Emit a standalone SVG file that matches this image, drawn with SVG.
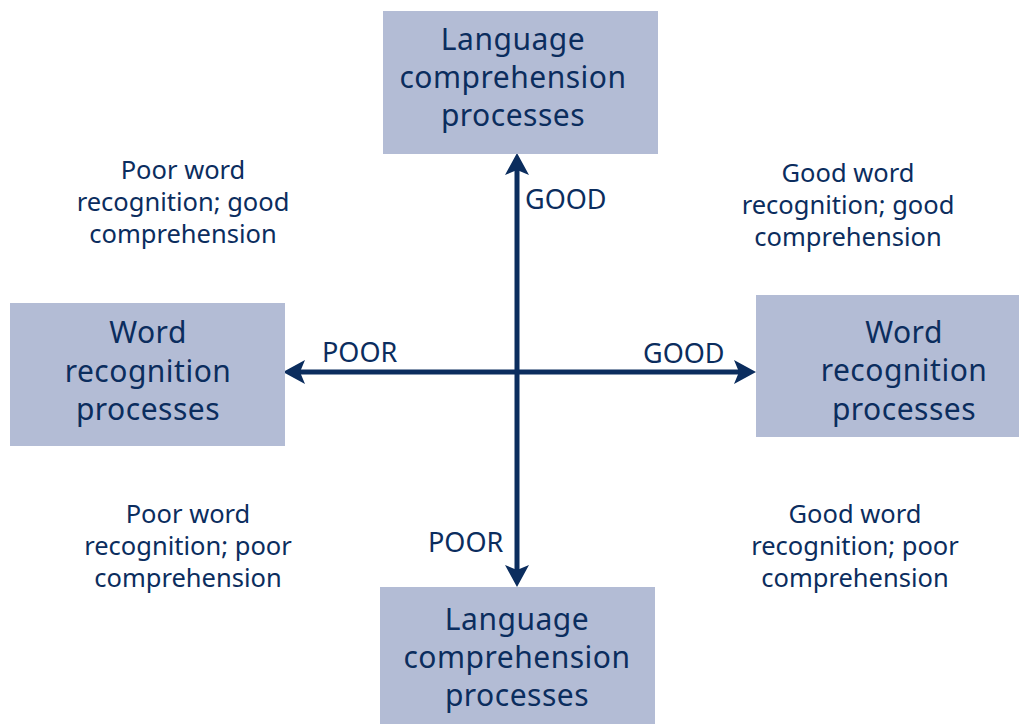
<svg xmlns="http://www.w3.org/2000/svg" width="1019" height="724" viewBox="0 0 1019 724">
<style>
.box{fill:#b3bcd5}
.bt{font-family:"Noto Sans",sans-serif;font-size:30px;fill:#0b2d5e;text-anchor:middle;letter-spacing:0.5px}
.qt{font-family:"Noto Sans",sans-serif;font-size:25.5px;fill:#0b2d5e;text-anchor:middle}
.at{font-family:"Noto Sans",sans-serif;font-size:27px;fill:#0b2d5e}
.ax{stroke:#0b2d5e;stroke-width:5;fill:none}
</style>
<defs>
<marker id="ah" markerUnits="userSpaceOnUse" markerWidth="30" markerHeight="30" viewBox="-15 -15 30 30" refX="0" refY="0" orient="auto-start-reverse" overflow="visible">
<path d="M10,0 L-12,-12 L-7,0 L-12,12 Z" fill="#0b2d5e"/>
</marker>
</defs>
<rect width="1019" height="724" fill="#ffffff"/>
<g id="connectors">
<line class="ax" x1="293" y1="372" x2="746" y2="372" marker-start="url(#ah)" marker-end="url(#ah)"/>
<line class="ax" x1="517" y1="163" x2="517" y2="577" marker-start="url(#ah)" marker-end="url(#ah)"/>
<text class="at" x="322" y="362">POOR</text>
<text class="at" x="643" y="363">GOOD</text>
<text class="at" x="525" y="209">GOOD</text>
<text class="at" x="428" y="552">POOR</text>
</g>
<g id="node-top">
<rect class="box" x="383" y="11" width="275" height="143"/>
<text class="bt" x="513" y="50">Language</text>
<text class="bt" x="513" y="88">comprehension</text>
<text class="bt" x="513" y="126">processes</text>
</g>
<g id="node-bottom">
<rect class="box" x="380" y="587" width="275" height="137"/>
<text class="bt" x="517" y="630">Language</text>
<text class="bt" x="517" y="668">comprehension</text>
<text class="bt" x="517" y="706">processes</text>
</g>
<g id="node-left">
<rect class="box" x="10" y="303" width="275" height="143"/>
<text class="bt" x="148" y="343">Word</text>
<text class="bt" x="148" y="382">recognition</text>
<text class="bt" x="148" y="420">processes</text>
</g>
<g id="node-right">
<rect class="box" x="756" y="295" width="263" height="142"/>
<text class="bt" x="904" y="343">Word</text>
<text class="bt" x="904" y="381">recognition</text>
<text class="bt" x="904" y="420">processes</text>
</g>
<g id="label-tl">
<text class="qt" x="183" y="179">Poor word</text>
<text class="qt" x="183" y="211">recognition; good</text>
<text class="qt" x="183" y="243">comprehension</text>
</g>
<g id="label-tr">
<text class="qt" x="848" y="182">Good word</text>
<text class="qt" x="848" y="214">recognition; good</text>
<text class="qt" x="848" y="246">comprehension</text>
</g>
<g id="label-bl">
<text class="qt" x="188" y="523">Poor word</text>
<text class="qt" x="188" y="555">recognition; poor</text>
<text class="qt" x="188" y="587">comprehension</text>
</g>
<g id="label-br">
<text class="qt" x="855" y="523">Good word</text>
<text class="qt" x="855" y="555">recognition; poor</text>
<text class="qt" x="855" y="587">comprehension</text>
</g>
</svg>
